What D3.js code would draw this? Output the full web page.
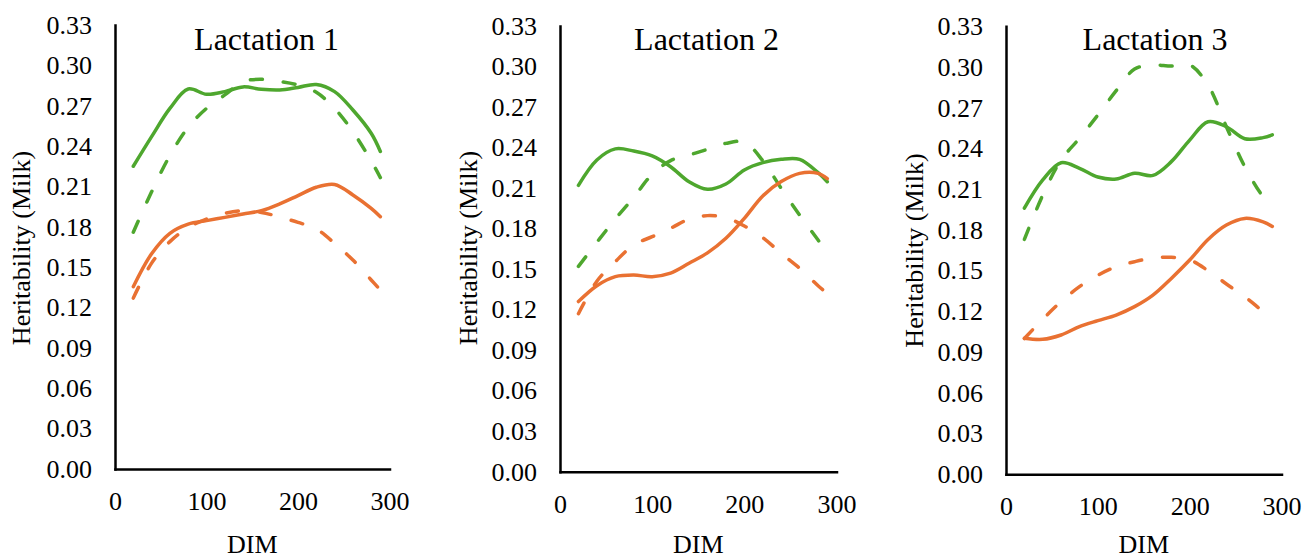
<!DOCTYPE html>
<html>
<head>
<meta charset="utf-8">
<script src="https://cdn.jsdelivr.net/npm/d3@7"></script>
<style>
  html, body { margin: 0; padding: 0; background: #fff; }
  svg { display: block; }
  text { font-family: "Liberation Serif", "Times New Roman", serif; fill: #000; }
</style>
</head>
<body>
<svg id="chart" width="1305" height="559"></svg>
<script>
// ---------- data ----------
const DIM = [20, 40, 60, 80, 100, 120, 140, 160, 180, 200, 220, 240, 260, 280, 290];
const yTickValues = [0, 0.03, 0.06, 0.09, 0.12, 0.15, 0.18, 0.21, 0.24, 0.27, 0.30, 0.33];
const xTickValues = [0, 100, 200, 300];
const panelTitles = ["Lactation 1", "Lactation 2", "Lactation 3"];
const xAxisTitle = "DIM";
const yAxisTitle = "Heritability (Milk)";

// Lactation 1
const lact1GreenSolid  = [0.225, 0.247, 0.268, 0.2824, 0.2785, 0.2805, 0.284, 0.2822, 0.2817, 0.2836, 0.2858, 0.2805, 0.2668, 0.2495, 0.236];
const lact1GreenDashed = [0.176, 0.206, 0.233, 0.254, 0.268, 0.278, 0.288, 0.2896, 0.288, 0.2854, 0.280, 0.268, 0.2507, 0.229, 0.2166];
const lact1OrangeSolid = [0.1355, 0.160, 0.1752, 0.182, 0.1846, 0.187, 0.1895, 0.192, 0.197, 0.2032, 0.2094, 0.2115, 0.2037, 0.1937, 0.1875];
const lact1OrangeDashed= [0.127, 0.153, 0.169, 0.1794, 0.1858, 0.190, 0.192, 0.1907, 0.1873, 0.1833, 0.1784, 0.1677, 0.1553, 0.1405, 0.133];

// Lactation 2
const lact2GreenSolid  = [0.212, 0.2308, 0.239, 0.2374, 0.2338, 0.2258, 0.2147, 0.2091, 0.213, 0.2234, 0.2288, 0.2313, 0.2313, 0.2214, 0.2147];
const lact2GreenDashed = [0.152, 0.1698, 0.1871, 0.2031, 0.2202, 0.2303, 0.2345, 0.2387, 0.2431, 0.244, 0.2303, 0.2098, 0.190, 0.1715, 0.162];
const lact2OrangeSolid = [0.126, 0.1377, 0.1444, 0.1456, 0.1444, 0.147, 0.1543, 0.162, 0.1728, 0.1876, 0.2042, 0.2148, 0.2209, 0.2209, 0.217];
const lact2OrangeDashed= [0.117, 0.141, 0.1555, 0.1679, 0.174, 0.1802, 0.1871, 0.1896, 0.1881, 0.1819, 0.1733, 0.1617, 0.1506, 0.1377, 0.132];

// Lactation 3
const lact3GreenSolid  = [0.196, 0.2168, 0.2295, 0.2254, 0.219, 0.2175, 0.2217, 0.2202, 0.2303, 0.2462, 0.2597, 0.256, 0.2472, 0.248, 0.250];
const lact3GreenDashed = [0.173, 0.2056, 0.2315, 0.2475, 0.2646, 0.2826, 0.2985, 0.3015, 0.3007, 0.3015, 0.2867, 0.256, 0.2266, 0.2045, 0.198];
const lact3OrangeSolid = [0.1002, 0.0994, 0.1026, 0.1088, 0.1132, 0.1173, 0.1235, 0.132, 0.1443, 0.1578, 0.173, 0.1836, 0.1885, 0.186, 0.1826];
const lact3OrangeDashed= [0.100, 0.1142, 0.1272, 0.1382, 0.1466, 0.1529, 0.1566, 0.1593, 0.1598, 0.1579, 0.150, 0.1402, 0.1309, 0.1203, 0.1175];

const panelSeries = [
  [lact1GreenSolid, lact1GreenDashed, lact1OrangeSolid, lact1OrangeDashed],
  [lact2GreenSolid, lact2GreenDashed, lact2OrangeSolid, lact2OrangeDashed],
  [lact3GreenSolid, lact3GreenDashed, lact3OrangeSolid, lact3OrangeDashed]
];

// ---------- layout / style ----------
const GREEN = "#4EA72E", ORANGE = "#E97132";
const seriesStyle = [
  { color: GREEN,  dash: null },
  { color: GREEN,  dash: "12,21" },
  { color: ORANGE, dash: null },
  { color: ORANGE, dash: "12,21" }
];
const layout = [
  { x0: 115,  x1: 389.5,  y0: 469,   y1: 25,   titleX: 266.5, labelX: 30,    labelY: 248 },
  { x0: 560,  x1: 836.5,  y0: 471.7, y1: 26,   titleX: 706.5, labelX: 476.5, labelY: 248 },
  { x0: 1006, x1: 1281.5, y0: 474.3, y1: 26.3, titleX: 1155,  labelX: 922.5, labelY: 250.5 }
];

const svg = d3.select("#chart");

layout.forEach((L, i) => {
  const x = d3.scaleLinear().domain([0, 300]).range([L.x0, L.x1]);
  const y = d3.scaleLinear().domain([0, 0.33]).range([L.y0, L.y1]);
  const g = svg.append("g");

  // series
  const line = d3.line()
    .x((d, k) => x(DIM[k]))
    .y(d => y(d))
    .curve(d3.curveCatmullRom.alpha(0.5));
  panelSeries[i].forEach((vals, s) => {
    const st = seriesStyle[s];
    g.append("path")
      .attr("d", line(vals))
      .attr("fill", "none")
      .attr("stroke", st.color)
      .attr("stroke-width", 3.5)
      .attr("stroke-linecap", "round")
      .attr("stroke-linejoin", "round")
      .attr("stroke-dasharray", st.dash);
  });

  // y axis
  const ya = g.append("g")
    .attr("transform", `translate(${L.x0},0)`)
    .call(d3.axisLeft(y).tickValues(yTickValues).tickFormat(d3.format(".2f"))
      .tickSize(0).tickSizeOuter(0).tickPadding(23));
  // x axis
  const xa = g.append("g")
    .attr("transform", `translate(0,${L.y0})`)
    .call(d3.axisBottom(x).tickValues(xTickValues).tickFormat(d3.format("d"))
      .tickSize(0).tickSizeOuter(0).tickPadding(22.5));
  [ya, xa].forEach(a => {
    a.attr("font-family", null);
    a.select(".domain").attr("stroke", "#000").attr("stroke-width", 2.5).attr("stroke-linecap", "square");
    a.selectAll("text").attr("font-size", 26).attr("fill", "#000");
  });

  // title
  g.append("text")
    .attr("x", L.titleX).attr("y", 50)
    .attr("text-anchor", "middle")
    .attr("font-size", 32)
    .text(panelTitles[i]);

  // x axis title
  g.append("text")
    .attr("x", (L.x0 + L.x1) / 2).attr("y", 552.5)
    .attr("text-anchor", "middle")
    .attr("font-size", 26)
    .text(xAxisTitle);

  // y axis title
  g.append("text")
    .attr("transform", `translate(${L.labelX},${L.labelY}) rotate(-90)`)
    .attr("text-anchor", "middle")
    .attr("font-size", 26)
    .text(yAxisTitle);
});
</script>
</body>
</html>
